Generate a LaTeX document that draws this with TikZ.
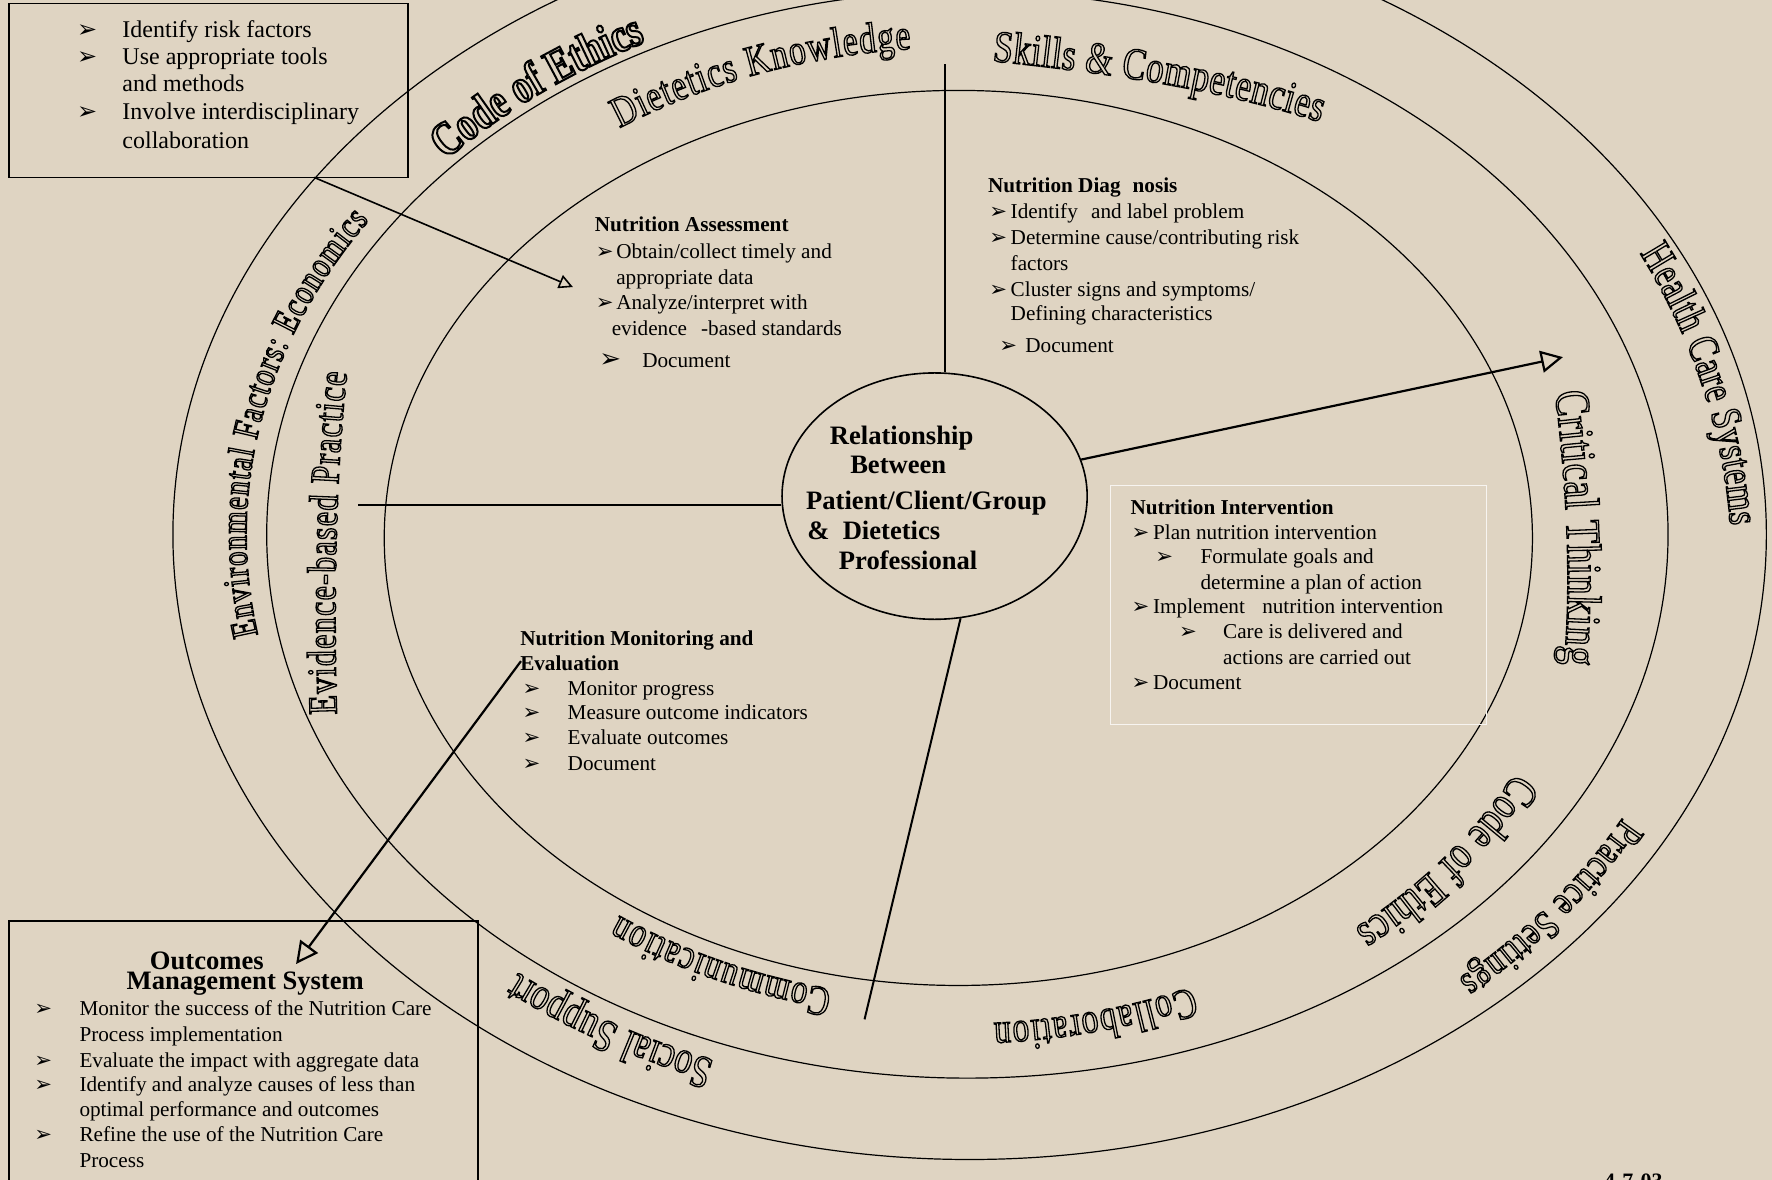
\documentclass[tikz,border=0pt]{standalone}
\usepackage{fontspec}
\setmainfont{Liberation Serif}
\newfontfamily\dvsans{DejaVu Sans}
\newfontfamily\arcf[FakeStretch=0.78]{Liberation Serif}
\usetikzlibrary{arrows.meta,shapes.geometric,decorations.text,fit}
\definecolor{bg}{RGB}{223,212,194}
\newdimen\pxu \pxu=0.565pt
\newcommand\bulx{{\dvsans ➢}}
\newcommand\bitm[2]{\makebox[#1\pxu][l]{\bulx}#2}
\newcommand\olw[1]{\special{pdf:literal direct 1 Tr #1 w}}
\newcommand\cfa{\arcf\bfseries\fontsize{24}{24}\selectfont\olw{1.0}}
\newcommand\cfb{\arcf\fontsize{21.5}{21}\selectfont\olw{0.65}}
\newcommand\cfc{\arcf\fontsize{22.5}{22}\selectfont\olw{0.65}}
\newcommand\cfd{\arcf\fontsize{21.5}{21}\selectfont\olw{0.65}}
\newcommand\cfe{\arcf\fontsize{24.5}{24}\selectfont\olw{0.65}}
\newcommand\cff{\arcf\fontsize{23.5}{23}\selectfont\olw{0.65}}
\newcommand\cfg{\arcf\fontsize{20.5}{20}\selectfont\olw{0.65}}
\newcommand\cfh{\arcf\fontsize{21.5}{21}\selectfont\olw{0.65}}
\newcommand\cfi{\arcf\fontsize{21}{21}\selectfont\olw{0.65}}
\newcommand\cfj{\arcf\fontsize{23}{23}\selectfont\olw{0.65}}
\newcommand\cfk{\arcf\fontsize{18.5}{18}\selectfont\olw{0.65}}
\newcommand\cfl{\arcf\fontsize{20.5}{20}\selectfont\olw{0.65}}
\begin{document}
\begin{tikzpicture}[x=0.565pt,y=-0.565pt,
  ell/.style={draw,line width=0.6pt},
  conn/.style={line width=1pt},
  arrbig/.style={line width=1.1pt,-{Triangle[open,length=11pt,width=11pt]}},
  arrsm/.style={line width=0.8pt,-{Triangle[open,length=7pt,width=7pt]}},
  txt/.style={inner sep=0pt,anchor=base west,font=\fontsize{10.6}{12.7}\selectfont},
  txtl/.style={inner sep=0pt,anchor=base west,font=\fontsize{12}{14}\selectfont},
  txtc/.style={inner sep=0pt,anchor=base west,font=\bfseries\fontsize{13.3}{15}\selectfont},
  boxed/.style={draw,line width=0.8pt,inner sep=0pt},
  arctext/.style={decorate,decoration={text along path,text={#1},text align={fit to path}}}
]
\useasboundingbox (0,0) rectangle (1568,1044);
\fill[bg] (0,0) rectangle (1568,1044);
\clip (0,0) rectangle (1568,1044);

% rings
\draw[ell] (858,473) ellipse[x radius=705,y radius=553];
\draw[ell] (856,473) ellipse[x radius=620,y radius=481];
\draw[ell] (848,476) ellipse[x radius=508,y radius=396];

% centre
\node[draw,ellipse,line width=0.8pt,minimum width=270\pxu,minimum height=218\pxu,inner sep=0pt] (rel) at (827,439) {};
\node[txtc] (c1) at (734,393) {Relationship};
\node[txtc] (c2) at (752,419) {Between};
\node[txtc] (c3) at (713,451) {Patient/Client/Group};
\node[txtc] (c4) at (714,477) {\&\hspace{0.5em}Dietetics};
\node[txtc] (c5) at (742,504) {Professional};

% boxes
\node[boxed,fit={(8,3) (361,157)}] (tlbox) {};
\node[boxed,fit={(8,815) (423,1070)}] (obox) {};
\node[draw=white!75!bg,line width=0.5pt,inner sep=0pt,fit={(983,430) (1315,641)}] (ibox) {};

% connectors
\coordinate (vt) at (836,57);
\coordinate (hl) at (317,447);
\coordinate (ll) at (765,902);
\coordinate (rt) at (1383,316);
\coordinate (ta) at (278,157);
\coordinate (tb) at (507,254);
\coordinate (ma) at (461,585);
\coordinate (mb) at (262,853);
\draw[conn] (vt) -- (vt |- rel.north);
\draw[conn] (hl) -- (hl -| rel.west);
\draw[conn] (rel.-78) -- (ll);
\draw[arrbig] (rel.14) -- (rt);
\draw[arrsm] (ta) -- (tb);
\draw[arrbig] (ma) -- (mb);

% top-left box
\node[txtl] (t1) at (68,33) {\bitm{40}{Identify risk factors}};
\node[txtl] (t2) at (68,57) {\bitm{40}{Use appropriate tools}};
\node[txtl] (t3) at (108,81) {and methods};
\node[txtl] (t4) at (68,106) {\bitm{40}{Involve interdisciplinary}};
\node[txtl] (t5) at (108,131) {collaboration};

% assessment
\node[txt] (a0) at (526,205) {\bfseries Nutrition Assessment};
\node[txt] (a1) at (527,229) {\bitm{18}{Obtain/collect timely and}};
\node[txt] (a2) at (545,252) {appropriate data};
\node[txt] (a3) at (527,274) {\bitm{18}{Analyze/interpret with}};
\node[txt] (a4) at (541,297) {evidence\hspace{7pt}-based standards};
\node[txt] (a5) at (530,325) {\makebox[38\pxu][l]{\fontsize{13}{13}\selectfont\bulx}Document};

% diagnosis
\node[txt] (d0) at (874,170) {\bfseries Nutrition Diag\hspace{6pt}nosis};
\node[txt] (d1) at (875,193) {\bitm{19}{Identify\hspace{4pt} and label problem}};
\node[txt] (d2) at (875,216) {\bitm{19}{Determine cause/contributing risk}};
\node[txt] (d3) at (894,239) {factors};
\node[txt] (d4) at (875,262) {\bitm{19}{Cluster signs and symptoms/}};
\node[txt] (d5) at (894,284) {Defining characteristics};
\node[txt] (d6) at (884,312) {\bitm{23}{Document}};

% intervention
\node[txt] (i0) at (1000,455) {\bfseries Nutrition Intervention};
\node[txt] (i1) at (1001,477) {\bitm{19}{Plan nutrition intervention}};
\node[txt] (i2) at (1022,499) {\bitm{40}{Formulate goals and}};
\node[txt] (i3) at (1062,522) {determine a plan of action};
\node[txt] (i4) at (1001,543) {\bitm{19}{Implement\hspace{6pt} nutrition intervention}};
\node[txt] (i5) at (1043,565) {\bitm{39}{Care is delivered and}};
\node[txt] (i6) at (1082,588) {actions are carried out};
\node[txt] (i7) at (1001,610) {\bitm{19}{Document}};

% monitoring
\node[txt] (m0) at (460,571) {\bfseries Nutrition Monitoring and};
\node[txt] (m1) at (460,593) {\bfseries Evaluation};
\node[txt] (m2) at (462,615) {\bitm{40}{Monitor progress}};
\node[txt] (m3) at (462,637) {\bitm{40}{Measure outcome indicators}};
\node[txt] (m4) at (462,659) {\bitm{40}{Evaluate outcomes}};
\node[txt] (m5) at (462,682) {\bitm{40}{Document}};

% outcomes
\node[txtc,anchor=base] (o1) at (183,858) {Outcomes};
\node[txtc,anchor=base] (o2) at (217,876) {Management System};
\node[txt] (o3) at (30,899) {\bitm{40}{Monitor the success of the Nutrition Care}};
\node[txt] (o4) at (70,922) {Process implementation};
\node[txt] (o5) at (30,945) {\bitm{40}{Evaluate the impact with aggregate data}};
\node[txt] (o6) at (30,966) {\bitm{40}{Identify and analyze causes of less than}};
\node[txt] (o7) at (70,988) {optimal performance and outcomes};
\node[txt] (o8) at (30,1010) {\bitm{40}{Refine the use of the Nutrition Care}};
\node[txt] (o9) at (70,1033) {Process};

\node[inner sep=0pt,anchor=base west,font=\bfseries\fontsize{11}{11}\selectfont] (date) at (1419,1052) {4-7-03};

% curved outlined labels
\path[arctext={|\cfa|Code of Ethics}] ([shift={(856,473)}]222.7:628 and 489) arc[start angle=222.7,end angle=242.5,x radius=628,y radius=489];
\path[arctext={|\cfb|Dietetics Knowledge}] ([shift={(848,476)}]236.7:546 and 434) arc[start angle=236.7,end angle=265.6,x radius=546,y radius=434];
\path[arctext={|\cfc|Skills {\&} Competencies}] (878,54) .. controls (975.5,64.2) and (1074.8,77.7) .. (1168,108);
\path[arctext={|\cfd|Health Care Systems}] (1451,224) .. controls (1496,296) and (1525,380) .. (1531,465);
\path[arctext={|\cfe|Critical Thinking}] (1376,347) .. controls (1385.7,426.4) and (1391,508.3) .. (1384,588);
\path[arctext={|\cff|Code of Ethics}] ([shift={(848,476)}]27.8:557 and 445) arc[start angle=27.8,end angle=51,x radius=557,y radius=445];
\path[arctext={|\cfg|Practice Settings}] ([shift={(856,473)}]28.7:661 and 522) arc[start angle=28.7,end angle=48.9,x radius=661,y radius=522];
\path[arctext={|\cfh|Collaboration}] ([shift={(848,476)}]67.6:542 and 430) arc[start angle=67.6,end angle=86.7,x radius=542,y radius=430];
\path[arctext={|\cfi|Communication}] ([shift={(848,476)}]102.4:521 and 409) arc[start angle=102.4,end angle=125.2,x radius=521,y radius=409];
\path[arctext={|\cfj|Social Support}] ([shift={(856,473)}]110.6:636 and 497) arc[start angle=110.6,end angle=128.7,x radius=636,y radius=497];
\path[arctext={|\cfk|Environmental Factors: Economics}] ([shift={(852,473)}]169.7:634 and 497) arc[start angle=169.7,end angle=214,x radius=634,y radius=497];
\path[arctext={|\cfl|Evidence-based Practice}] (298,632) .. controls (295,530) and (297,420) .. (307,330);
\end{tikzpicture}
\end{document}
